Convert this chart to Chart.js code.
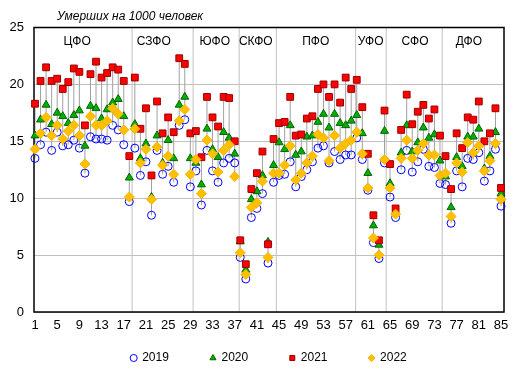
<!DOCTYPE html>
<html>
<head>
<meta charset="utf-8">
<script src="https://cdn.jsdelivr.net/npm/chart.js@4.4.0/dist/chart.umd.min.js"></script>
<style>
  body { margin: 0; background: #fff; }
  #wrap { width: 519px; height: 376px; }
</style>
</head>
<body>
<div id="wrap"><canvas id="deathChart"></canvas></div>
<script>
// Deaths per 1000 people, regions 1..85 grouped by federal district
const years = ["2019", "2020", "2021", "2022"];
const regions = Array.from({ length: 85 }, (_, i) => i + 1);
const xTicks = [1, 5, 9, 13, 17, 21, 25, 29, 33, 37, 41, 45, 49, 53, 57, 61, 65, 69, 73, 77, 81, 85];

const deaths2019 = [
    13.5, 14.7, 15.8, 14.2, 15.8, 14.6, 14.7, 15.1, 14.4, 12.2, 15.4, 15.2, 15.2, 15.1, 16.4, 16.0, 14.7, 9.7,
    14.4, 12.0, 13.2, 8.5, 14.2, 12.1, 12.8, 11.4, 16.4, 16.9, 11.0,
    12.4, 9.4, 14.2, 12.4, 11.4, 13.1, 13.5, 13.1,
    4.8, 2.9, 8.3, 9.1, 10.4, 4.3, 11.4,
    12.0, 12.1, 13.2, 11.0, 11.9, 12.5, 13.2, 14.4, 14.6, 13.1, 14.1, 13.4, 13.8, 13.8,
    15.3, 13.4, 10.7, 6.1, 4.7, 13.1,
    10.1, 8.3, 12.5, 14.2, 12.3, 13.2, 14.3, 12.8, 12.7, 11.3,
    11.2, 7.8, 12.4, 11.0, 13.5, 13.4, 14.0, 11.5, 12.4, 14.3, 9.3
];
const deaths2020 = [
    15.5, 16.9, 18.2, 16.5, 17.5, 17.2, 16.6, 17.3, 17.7, 14.6, 18.1, 17.9, 17.0, 17.8, 18.4, 18.7, 17.2, 11.8,
    16.5, 13.5, 14.8, 10.1, 15.5, 13.1, 15.1, 13.5, 18.2, 18.9, 13.5,
    13.1, 11.2, 16.1, 14.3, 13.6, 15.8, 15.3, 13.9,
    6.2, 3.7, 9.9, 10.6, 12.0, 6.15, 12.9,
    14.9, 14.3, 16.4, 13.8, 14.1, 15.4, 15.5, 16.7, 17.4, 16.2, 17.4, 16.6, 16.4, 16.8,
    17.3, 15.7, 12.2, 7.6, 5.9, 15.9,
    11.3, 8.85, 14.0, 16.4, 14.1, 14.9, 16.2, 15.3, 15.6, 13.3,
    11.9, 9.2, 13.6, 12.8, 15.4, 15.4, 16.1, 12.6, 13.7, 15.8, 10.4
];
const deaths2021 = [
    18.3, 20.3, 21.5, 20.3, 20.5, 19.6, 20.2, 21.4, 21.1, 16.4, 20.9, 22.0, 20.6, 21.0, 21.5, 21.3, 20.3, 13.7,
    20.6, 16.1, 17.9, 12.0, 18.5, 15.7, 17.1, 15.8, 22.3, 21.8, 15.7,
    15.9, 13.6, 18.9, 17.1, 16.3, 18.9, 18.8, 15.0,
    6.3, 4.2, 10.8, 12.2, 14.1, 5.95, 15.2,
    16.6, 16.7, 18.9, 15.5, 15.6, 17.0, 17.2, 19.6, 20.0, 18.9, 20.0, 18.4, 20.6, 19.6,
    20.4, 18.0, 13.9, 8.5, 6.3, 17.7,
    13.0, 9.1, 16.0, 19.1, 16.5, 17.6, 18.2, 17.0, 17.8, 15.5,
    13.7, 10.8, 15.7, 14.4, 17.1, 16.9, 18.5, 15.0, 15.7, 17.9, 10.9
];
const deaths2022 = [
    14.3, 15.7, 17.1, 15.5, 16.4, 15.2, 15.9, 16.4, 15.5, 13.0, 17.2, 16.4, 16.4, 16.8, 17.9, 17.4, 16.0, 10.1,
    16.1, 13.1, 14.3, 9.9, 14.5, 12.9, 13.7, 12.1, 16.8, 17.8, 12.1,
    13.4, 10.4, 15.1, 13.9, 12.3, 14.2, 14.7, 11.9,
    5.2, 3.3, 9.2, 9.6, 11.5, 4.8, 12.2,
    12.2, 12.9, 14.6, 11.6, 12.2, 13.1, 13.7, 15.6, 15.3, 13.3, 15.5, 14.4, 14.8, 15.1,
    15.8, 13.9, 10.9, 6.5, 5.0, 13.4,
    10.9, 8.6, 13.5, 15.1, 13.5, 14.2, 14.8, 13.8, 13.8, 12.0,
    12.2, 8.4, 13.1, 12.3, 14.9, 14.0, 14.6, 12.4, 13.3, 14.8, 9.9
];

// Federal districts: names, label spot and the boundaries between groups
const districts = ["ЦФО", "СЗФО", "ЮФО", "СКФО", "ПФО", "УФО", "СФО", "ДФО"];
const districtLabelX = [8.6, 22.4, 33.4, 40.8, 51.6, 61.5, 69.5, 79.2];
const districtBounds = [18.5, 29.5, 37.8, 44.5, 58.8, 64.3, 74.4];

const FONT = "'Liberation Sans', Arial, sans-serif";
Chart.defaults.font.family = FONT;
Chart.defaults.color = "#000";

function toPoints(values) {
    return values.map((v, i) => ({ x: regions[i], y: v }));
}

// Separators, high-low lines, frame, district names and title
const extrasPlugin = {
    id: "extras",
    afterLayout(chart) {
        // legend text carries trailing spaces for spacing, so nudge it back to centre
        chart.legend.left += 32;
        chart.legend.right += 32;
    },
    beforeDatasetsDraw(chart) {
        const { ctx, chartArea: area, scales: { x, y } } = chart;
        ctx.save();
        ctx.lineWidth = 1;
        ctx.strokeStyle = "#c0c0c0";
        districtBounds.forEach(b => {
            const px = x.getPixelForValue(b);
            ctx.beginPath();
            ctx.moveTo(px, area.top);
            ctx.lineTo(px, area.bottom);
            ctx.stroke();
        });

        ctx.strokeStyle = "#a0a0a0";
        regions.forEach((r, i) => {
            const vals = [deaths2019[i], deaths2020[i], deaths2021[i], deaths2022[i]];
            const px = x.getPixelForValue(r);
            ctx.beginPath();
            ctx.moveTo(px, y.getPixelForValue(Math.max(...vals)));
            ctx.lineTo(px, y.getPixelForValue(Math.min(...vals)));
            ctx.stroke();
        });

        ctx.strokeStyle = "#000";
        ctx.lineWidth = 1.5;
        ctx.strokeRect(area.left, area.top, area.right - area.left, area.bottom - area.top);

        ctx.fillStyle = "#000";
        ctx.font = "12px " + FONT;
        ctx.textAlign = "center";
        ctx.textBaseline = "middle";
        districts.forEach((d, i) => {
            ctx.fillText(d, x.getPixelForValue(districtLabelX[i]), area.top + 14);
        });
        ctx.restore();
    },
    afterDraw(chart) {
        const { ctx, chartArea: area } = chart;
        ctx.save();
        ctx.fillStyle = "#000";
        ctx.font = "italic 12px " + FONT;
        ctx.textAlign = "left";
        ctx.textBaseline = "alphabetic";
        ctx.fillText("Умерших на 1000 человек", area.left + 23, 20);
        ctx.restore();
    }
};

const ctx = document.getElementById("deathChart").getContext("2d");
const deathChart = new Chart(ctx, {
    type: "scatter",
    data: {
        datasets: [
            {
                label: years[0],
                data: toPoints(deaths2019),
                pointStyle: "circle",
                pointRadius: 4,
                borderWidth: 1,
                borderColor: "#0000ff",
                backgroundColor: "rgba(255,255,255,0)",
                order: 4,
                clip: false,
            },
            {
                label: years[1],
                data: toPoints(deaths2020),
                pointStyle: "triangle",
                pointRadius: 4.6,
                borderWidth: 1,
                borderColor: "#006400",
                backgroundColor: "#00b000",
                order: 3,
                clip: false,
            },
            {
                label: years[2],
                data: toPoints(deaths2021),
                pointStyle: "rect",
                pointRadius: 4.8,
                borderWidth: 1,
                borderColor: "#990000",
                backgroundColor: "#ff0000",
                order: 2,
                clip: false,
            },
            {
                label: years[3],
                data: toPoints(deaths2022),
                pointStyle: "rectRot",
                pointRadius: 5,
                borderWidth: 1,
                borderColor: "#f5b400",
                backgroundColor: "#ffc000",
                order: 1,
                clip: false,
            },
        ],
    },
    options: {
        responsive: true,
        maintainAspectRatio: false,
        animation: false,
        events: [],
        layout: {
            padding: { top: 27.5, left: 0, right: 15, bottom: 2 },
        },
        plugins: {
            legend: {
                display: true,
                position: "bottom",
                labels: {
                    usePointStyle: true,
                    boxWidth: 5,
                    boxHeight: 5,
                    padding: 11.6,
                    font: { size: 12 },
                    color: "#000",
                    sort: (a, b) => a.datasetIndex - b.datasetIndex,
                    generateLabels: chart => {
                        const items = Chart.defaults.plugins.legend.labels.generateLabels(chart);
                        items.forEach(item => { item.text = item.text + "         "; });
                        return items;
                    },
                },
            },
            title: { display: false },
            tooltip: { enabled: false },
        },
        scales: {
            x: {
                type: "linear",
                min: 0.82,
                max: 85.54,
                grid: { display: false, drawTicks: false },
                border: { display: false },
                afterBuildTicks: axis => {
                    axis.ticks = xTicks.map(v => ({ value: v }));
                },
                afterFit: scale => {
                    scale.height = 28.4;
                },
                ticks: {
                    autoSkip: false,
                    maxRotation: 0,
                    padding: 6,
                    font: { size: 13 },
                    color: "#000",
                },
            },
            y: {
                min: 0,
                max: 25,
                grid: { color: "#c0c0c0", drawTicks: false },
                border: { display: false },
                afterFit: scale => {
                    scale.width = 34;
                },
                ticks: {
                    stepSize: 5,
                    padding: 10,
                    font: { size: 13 },
                    color: "#000",
                },
            },
        },
    },
    plugins: [extrasPlugin],
});
</script>
</body>
</html>
